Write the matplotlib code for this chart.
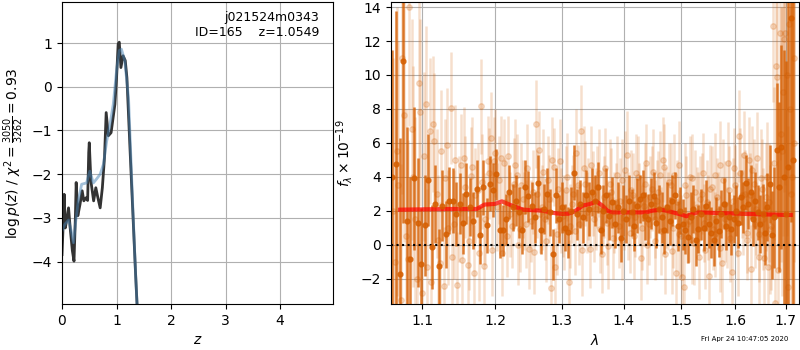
import numpy as np
import matplotlib
matplotlib.use("Agg")
import matplotlib.pyplot as plt
from matplotlib.ticker import NullLocator

# ---- p(z) panel ----
z_fit = [0.0, 0.02, 0.04, 0.06, 0.09, 0.12, 0.15, 0.19, 0.22, 0.245, 0.26, 0.29, 0.33, 0.37,
         0.40, 0.44, 0.47, 0.49, 0.50, 0.53, 0.58, 0.62, 0.66, 0.70, 0.74, 0.78, 0.81, 0.85,
         0.90, 0.97, 1.00, 1.03, 1.05, 1.08, 1.12, 1.16, 1.19, 1.25, 1.30, 1.35, 1.40]
logp_fit = [-3.84, -3.2, -2.46, -3.23, -3.03, -2.77, -3.23, -3.75, -3.99, -3.0, -2.19, -2.95,
            -2.69, -2.38, -2.61, -2.54, -2.6, -1.5, -1.28, -2.16, -2.61, -2.31, -2.55, -2.77,
            -2.31, -1.6, -0.59, -1.12, -1.05, -0.4, 0.2, 0.98, 1.02, 0.44, 0.71, 0.6, 0.21,
            -1.5, -2.9, -4.3, -5.6]
z_prior = [0.0, 0.05, 0.12, 0.17, 0.21, 0.25, 0.30, 0.36, 0.45, 0.51, 0.575, 0.64, 0.70, 0.76,
           0.82, 0.88, 0.94, 1.0, 1.05, 1.09, 1.15, 1.22, 1.30, 1.35, 1.40]
logp_prior = [-3.3, -3.15, -3.05, -3.3, -3.57, -3.1, -2.6, -2.23, -2.2, -1.93, -2.2, -2.1, -2.0,
              -1.77, -1.24, -0.86, -0.4, 0.37, 0.83, 0.86, 0.6, -0.25, -2.8, -4.3, -5.6]

# ---- spectrum panel ----
step = 0.0047
wave_dark = np.arange(140) * step + 1.061
flux_dark = [4.0, 4.75, -1.74, 10.8, 1.42, -0.84, 3.9, 1.3, -1.15, 1.13,
             3.8, -0.14, 2.4, -1.27, 2.3, 0.6, 2.6, 2.6, 1.8, 2.4,
             1.26, 3.0, 2.2, 1.42, 3.3, 0.55, 3.37, 1.13, 3.6, 3.2,
             4.15, 0.84, 0.84, 1.5, 3.1, 2.2, 2.6, 1.9, 0.84, 3.4,
             2.85, 2.3, 1.6, 3.66, 0.84, 2.1, 3.0, 1.9, -0.58, 2.9,
             1.5, 2.2, 1.0, 0.74, 2.0, 4.25, 1.8, 2.4, 1.6, 2.9,
             2.1, 3.1, 2.6, 3.37, 0.84, 2.0, 2.9, 1.7, 2.5, 1.23,
             2.2, 0.39, 2.0, 1.52, 2.6, 1.9, 1.1, 2.3, 2.68, 2.9,
             1.7, 1.5, 2.4, 2.88, 1.3, 2.1, 1.6, 0.84, 2.2, 1.4,
             2.6, 2.9, 1.1, 2.0, 1.2, 0.84, 0.44, 1.6, 2.1, 0.25,
             0.93, 1.8, 1.0, 2.3, 1.2, 0.7, 0.25, 1.4, 0.8, 1.8,
             2.4, 1.1, 1.6, 0.9, 1.5, 2.0, 1.3, 2.78, 2.2, 3.66,
             2.4, 3.1, 1.5, 2.6, 1.9, 1.22, 1.8, 0.7, 2.2, 3.56,
             0.55, 1.6, 5.55, 3.4, 5.75, 4.0, 1.8, 4.55, 13.35, 5.0]
err_dark = [7.5, 9.0, 8.0, 9.5, 5.5, 4.8, 4.2, 3.8, 3.3, 3.0,
            2.7, 2.5, 2.3, 2.2, 2.1, 2.0, 2.0, 1.9, 1.9, 1.8,
            1.8, 1.8, 1.7, 1.7, 1.7, 1.7, 1.6, 1.6, 1.6, 1.6,
            1.5, 1.6, 1.5, 1.5, 1.6, 1.4, 1.5, 1.5, 1.4, 1.6,
            1.5, 1.4, 1.5, 1.6, 1.4, 1.5, 1.5, 1.4, 1.5, 1.6,
            1.4, 1.5, 1.4, 1.5, 1.4, 1.6, 1.5, 1.4, 1.5, 1.5,
            1.6, 1.4, 1.5, 1.5, 1.4, 1.5, 1.6, 1.4, 1.5, 1.4,
            1.5, 1.4, 1.5, 1.4, 1.5, 1.4, 1.5, 1.6, 1.4, 1.5,
            1.4, 1.5, 1.5, 1.4, 1.5, 1.4, 1.5, 1.4, 1.5, 1.4,
            1.5, 1.4, 1.5, 1.4, 1.5, 1.4, 1.5, 1.5, 1.4, 1.5,
            1.4, 1.5, 1.4, 1.5, 1.4, 1.5, 1.5, 1.4, 1.5, 1.4,
            1.5, 1.4, 1.5, 1.5, 1.4, 1.5, 1.5, 1.6, 1.5, 1.6,
            1.5, 1.6, 1.6, 1.7, 1.6, 1.7, 1.8, 1.9, 2.0, 2.3,
            2.6, 3.0, 4.0, 5.0, 6.0, 7.5, 9.0, 10.5, 12.0, 14.0]

wave_light_a = np.arange(140) * step + 1.0626
flux_light_a = [2.0, 5.5, -3.26, 7.66, -0.82, 6.8, 1.5, 9.5, -2.86, 8.3,
                6.7, 7.1, 3.0, -1.1, -2.44, 5.86, 8.05, 1.2, -2.38, 4.7,
                5.1, -1.2, 4.05, -1.65, 3.2, 8.15, -1.27, 4.9, 6.3, 4.9,
                2.2, 5.1, 4.83, 0.5, 1.8, 3.6, 4.1, 0.9, 2.7, 1.2,
                -0.24, 3.1, 7.1, 5.6, 2.2, 1.5, 3.8, -2.58, 4.55, 0.6,
                4.9, 1.7, 3.2, -2.2, 2.4, 0.8, 3.5, 6.7, 4.5, 1.9,
                -0.24, 3.0, 2.1, 4.2, -0.53, 2.8, 1.3, 3.6, 0.4, 2.5,
                1.1, 3.8, 2.0, 5.3, 0.7, 2.9, 1.6, 4.0, -0.78, 2.3,
                4.83, 1.2, 3.3, 0.2, 2.6, 4.1, 5.0, -0.53, 2.0, 3.5,
                1.0, -1.65, 4.67, 0.5, -2.48, 2.9, 1.4, 3.9, 0.1, 2.2,
                -0.72, 3.0, 1.3, 2.5, -1.85, 3.4, 0.6, 2.8, 4.67, -1.1,
                2.4, 1.0, 3.2, -1.6, 4.5, 1.8, 6.4, 2.9, 5.3, 0.7,
                5.0, -1.46, 3.6, 2.1, -0.72, 3.9, 1.5, 2.8, -1.3, 0.9,
                12.9, -3.45, 9.9, 12.5, 5.5, 12.1, 10.0, 13.0, 3.0, 6.0]
wave_light_b = np.arange(140) * step + 1.0642
flux_light_b = [-1.0, 3.5, 11.0, 0.5, 14.0, 4.0, -2.0, 7.8, 5.2, -1.3,
                -2.2, 6.1, 0.3, 5.5, 3.9, 1.0, -0.72, 5.0, 2.1, -0.92,
                3.4, 0.2, 4.6, 2.9, -0.5, 3.7, 1.5, 4.2, -0.34, 5.4,
                3.8, -0.5, 2.5, 5.2, 1.1, 4.7, 0.0, 3.5, 2.0, 4.5,
                1.4, -0.43, 3.0, 1.8, 4.3, 0.2, 2.7, 5.0, -1.3, 3.3,
                2.0, 0.9, 4.0, 1.1, 3.0, 5.4, 1.2, -0.3, 3.6, 2.7,
                4.7, 1.5, 3.4, 0.9, 2.2, 4.5, -0.1, 3.1, 1.9, 4.1,
                2.6, 0.3, 4.4, 1.7, 3.2, 0.5, 4.2, 2.4, 1.0, 3.6,
                0.0, 2.8, 4.3, 1.5, 3.1, 0.8, 4.6, 2.2, 3.7, -0.4,
                4.1, 2.5, 0.6, -1.89, 3.5, 1.2, 4.0, 0.3, 3.1, 1.9,
                2.7, 4.2, -0.3, 1.6, 3.3, 0.9, 4.1, 2.0, -0.2, 3.8,
                1.5, 4.8, 0.4, 2.6, 3.5, -0.5, 4.2, 1.9, 3.0, 0.3,
                2.9, 4.4, 1.2, 5.1, 0.6, 3.3, -0.8, 4.0, 2.5, 1.1,
                4.8, 10.5, -1.5, 6.5, 9.0, 12.5, -2.5, 8.0, 4.0, 11.0]
err_light = [9.0, 8.5, 8.0, 7.5, 7.0, 6.5, 6.0, 5.5, 5.0, 4.6,
             4.3, 4.0, 3.8, 3.6, 3.5, 3.4, 3.3, 3.2, 3.1, 3.0,
             3.0, 2.9, 2.9, 2.8, 2.8, 2.8, 2.7, 2.7, 2.7, 2.6,
             2.6, 2.5, 2.6, 2.4, 2.5, 2.7, 2.4, 2.5, 2.3, 2.6,
             2.4, 2.5, 2.6, 2.3, 2.5, 2.4, 2.6, 2.5, 2.3, 2.4,
             2.5, 2.4, 2.6, 2.5, 2.3, 2.6, 2.4, 2.7, 2.5, 2.4,
             2.3, 2.5, 2.4, 2.6, 2.3, 2.4, 2.5, 2.6, 2.4, 2.3,
             2.5, 2.4, 2.3, 2.6, 2.4, 2.5, 2.3, 2.4, 2.5, 2.4,
             2.3, 2.4, 2.5, 2.3, 2.4, 2.6, 2.5, 2.4, 2.3, 2.5,
             2.4, 2.5, 2.6, 2.4, 2.5, 2.3, 2.4, 2.6, 2.5, 2.4,
             2.5, 2.4, 2.3, 2.5, 2.6, 2.4, 2.5, 2.3, 2.6, 2.4,
             2.5, 2.4, 2.6, 2.5, 2.4, 2.5, 2.7, 2.5, 2.6, 2.4,
             2.5, 2.6, 2.6, 2.7, 2.8, 2.9, 3.0, 3.2, 3.5, 3.8,
             4.5, 5.5, 6.5, 7.5, 8.5, 9.0, 9.5, 10.0, 11.0, 12.0]

wave_model = [1.071, 1.10, 1.14, 1.174, 1.185, 1.20, 1.21, 1.2245, 1.241, 1.27, 1.29, 1.30,
              1.31, 1.32, 1.333, 1.345, 1.355, 1.3645, 1.373, 1.38, 1.40, 1.437, 1.449,
              1.4636, 1.47, 1.485, 1.50, 1.5095, 1.52, 1.53, 1.58, 1.62, 1.66, 1.70, 1.71]
flux_model = [2.06, 2.08, 2.1, 2.1, 2.36, 2.4, 2.55, 2.3, 2.06, 2.0, 1.85, 1.81,
              1.82, 1.95, 2.3, 2.4, 2.55, 2.3, 2.0, 1.9, 1.9, 1.9, 2.0,
              2.06, 2.02, 1.9, 1.77, 1.67, 1.81, 1.9, 1.85, 1.81, 1.78, 1.75, 1.75]

wave_ticks = [1.1, 1.2, 1.3, 1.4, 1.5, 1.6, 1.7]
grism_color = (0.8353, 0.3686, 0.0)

fig = plt.figure(figsize=(8, 3.5), dpi=100)

# left: redshift probability
ax1 = fig.add_axes([0.0775, 0.1314, 0.3388, 0.8629])
ax1.plot(z_fit, logp_fit, color="0.2", lw=2)
ax1.plot(z_prior, logp_prior, color="steelblue", alpha=0.5, lw=2)
ax1.set_xlim(0, 4.97)
ax1.set_ylim(-4.97, 1.94)
ax1.set_xticks([0, 1, 2, 3, 4])
ax1.set_yticks([-4, -3, -2, -1, 0, 1])
ax1.grid()
ax1.set_xlabel("$z$")
ax1.set_ylabel(r"$\log p(z)$ / $\chi^2=\frac{3050}{3262}=0.93$")
ax1.text(0.95, 0.97, "j021524m0343\nID=165    z=1.0549", transform=ax1.transAxes,
         ha="right", va="top", fontsize=9)

# right: 1D spectrum
ax2 = fig.add_axes([0.48875, 0.1314, 0.51, 0.8629])
ax2.errorbar(wave_light_a, flux_light_a, yerr=err_light, color=grism_color, alpha=0.2,
             marker="o", ms=4, linestyle="None", elinewidth=1.8)
ax2.errorbar(wave_light_b, flux_light_b, yerr=err_light, color=grism_color, alpha=0.2,
             marker="o", ms=4, linestyle="None", elinewidth=1.8)
ax2.errorbar(wave_dark, flux_dark, yerr=err_dark, color=grism_color, alpha=0.8,
             marker="o", ms=3.5, linestyle="None", elinewidth=1.8)
ax2.plot(wave_model, flux_model, color="r", alpha=0.7, lw=3)
ax2.axhline(0, color="k", linestyle=":", lw=1.5)
ax2.set_xscale("log")
ax2.set_xlim(1.0595, 1.727)
ax2.set_ylim(-3.5, 14.3)
ax2.set_xticks(wave_ticks)
ax2.set_xticklabels([str(t) for t in wave_ticks])
ax2.xaxis.set_minor_locator(NullLocator())
ax2.set_yticks([-2, 0, 2, 4, 6, 8, 10, 12, 14])
ax2.grid()
ax2.set_xlabel(r"$\lambda$")
ax2.set_ylabel(r"$f_\lambda\times10^{-19}$")

fig.text(0.985, 0.022, "Fri Apr 24 10:47:05 2020", ha="right", va="bottom", fontsize=5)

fig.savefig("out.png", dpi=100)
